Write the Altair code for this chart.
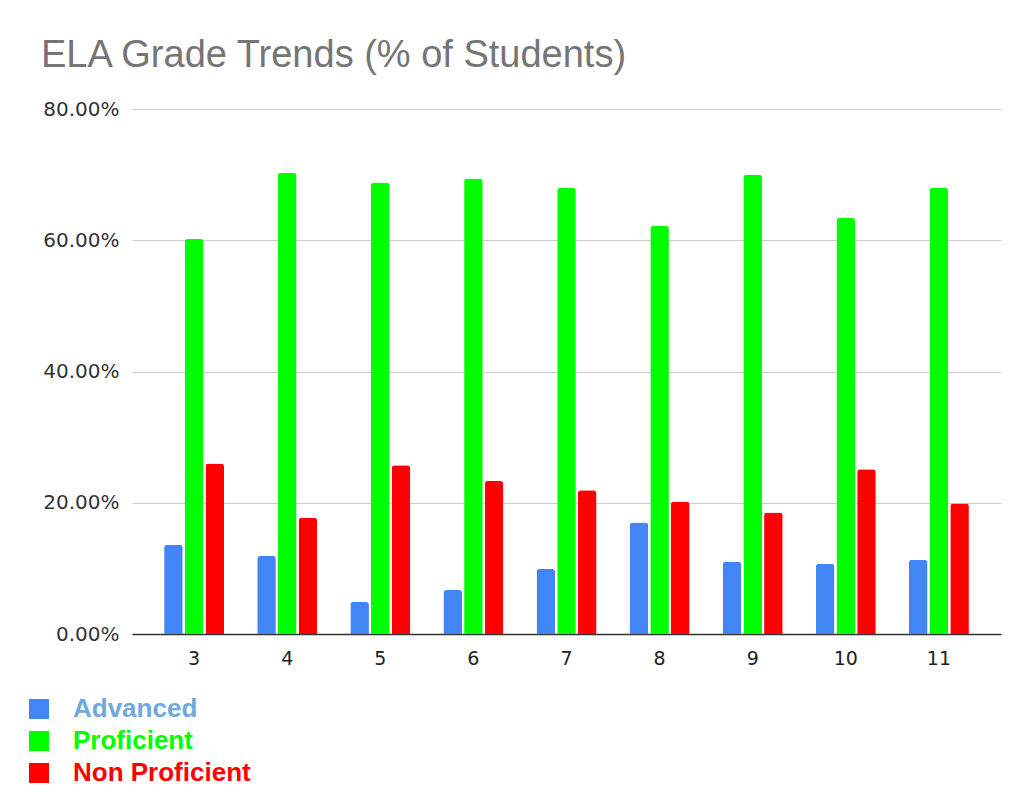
import altair as alt
import pandas as pd

grades = ["3", "4", "5", "6", "7", "8", "9", "10", "11"]
advanced = [13.6, 11.9, 4.9, 6.7, 9.9, 17.0, 11.0, 10.7, 11.3]
proficient = [60.2, 70.3, 68.8, 69.4, 68.0, 62.2, 70.0, 63.4, 68.0]
non_proficient = [26.0, 17.7, 25.7, 23.3, 21.9, 20.2, 18.5, 25.1, 19.9]

series = ["Advanced", "Proficient", "Non Proficient"]
bar_colors = ["#4285f4", "#00ff00", "#ff0000"]

rows = []
for name, vals in zip(series, [advanced, proficient, non_proficient]):
    for g, v in zip(grades, vals):
        rows.append({"grade": g, "series": name, "value": v})
df = pd.DataFrame(rows)

font = "Liberation Sans"
axis_font = "DejaVu Sans"

label_fill = ("datum.value === 'Advanced' ? '#6fa8dc' : "
              "(datum.value === 'Proficient' ? '#00ff00' : '#ff0000')")

chart = alt.Chart(df).mark_bar(
    cornerRadiusTopLeft=3, cornerRadiusTopRight=3
).encode(
    x=alt.X("grade:N", sort=grades, title=None,
            scale=alt.Scale(paddingInner=0.356, paddingOuter=0.345),
            axis=alt.Axis(labelAngle=0, labelFontSize=19, labelColor="#222222",
                          labelFont=axis_font, ticks=False, labelPadding=15,
                          domainColor="#333333", domainWidth=1.6, grid=False)),
    xOffset=alt.XOffset("series:N", sort=series,
                        scale=alt.Scale(paddingInner=0.1, paddingOuter=0)),
    y=alt.Y("value:Q", title=None,
            scale=alt.Scale(domain=[0, 80], nice=False),
            axis=alt.Axis(values=[0, 20, 40, 60, 80],
                          labelExpr="format(datum.value, '.2f') + '%'",
                          labelFontSize=20, labelColor="#333333", labelFont=axis_font,
                          ticks=False, domain=False, labelPadding=13,
                          gridColor="#cccccc", gridWidth=1)),
    color=alt.Color("series:N", sort=series,
                    scale=alt.Scale(domain=series, range=bar_colors),
                    legend=alt.Legend(
                        title=None, orient="none", legendX=-106, legendY=587,
                        direction="vertical", symbolType="square",
                        symbolSize=400, symbolStrokeWidth=0, symbolOpacity=1,
                        labelFontSize=26, labelFont=font, labelFontWeight="bold",
                        labelOffset=21, rowPadding=6, labelLimit=400,
                        labelColor={"expr": label_fill})),
).properties(
    width=869,
    height=525,
    background="white",
    title=alt.TitleParams("ELA Grade Trends (% of Students)", anchor="start",
                          frame="group", fontSize=38, font=font,
                          fontWeight="normal", color="#757575", dx=-91,
                          offset=24),
    autosize=alt.AutoSizeParams(type="none"),
    padding={"left": 124, "top": 101, "right": 20, "bottom": 161},
).configure_view(strokeWidth=0, stroke="transparent")

chart.save("out.html", embed_options={"renderer": "svg", "actions": False})
